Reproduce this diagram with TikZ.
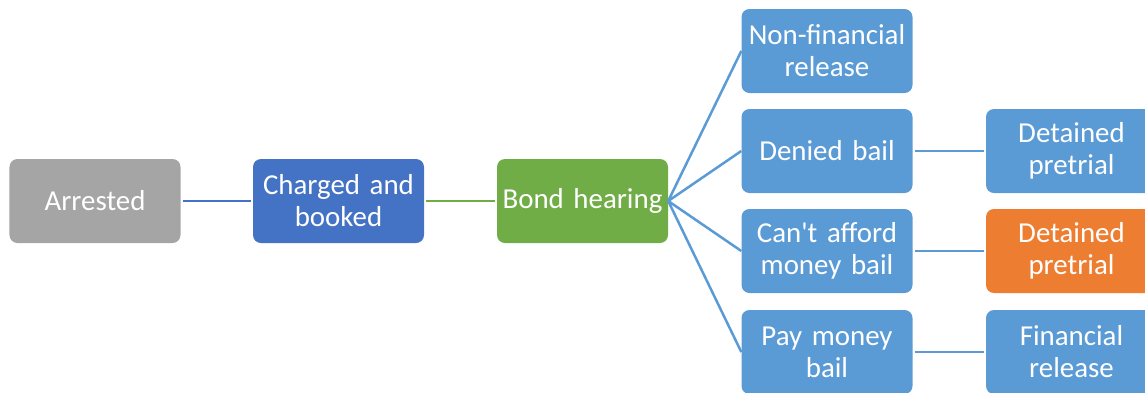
\documentclass[tikz,border=0pt]{standalone}
\usepackage{fontspec}
\setmainfont{Carlito}[Ligatures=TeXOff]
\usepackage{xcolor}
\usetikzlibrary{positioning}
\definecolor{grayfill}{HTML}{A5A5A5}
\definecolor{darkblue}{HTML}{4472C4}
\definecolor{greenfill}{HTML}{70AD47}
\definecolor{lightblue}{HTML}{5B9BD5}
\definecolor{orangefill}{HTML}{ED7D31}

\begin{document}
\begin{tikzpicture}[x=1bp,y=-1bp]
            \tikzset{box/.style = {rounded corners=8bp, minimum width=171bp, minimum height=84bp,
                                   text width=165bp, align=center, inner sep=0pt, text=white,
                                   font=\fontsize{29}{32}\selectfont},
                     link/.style = {line width=2.5bp, shorten <=2bp, shorten >=2bp}}
            \clip (0,0) rectangle (1145,392);
            % vertices
            \node[box, fill=grayfill] (arr) at  (95,201) {Arrested};
            \node[box, fill=darkblue] (chg) at  (338.5,201) {Charged and\\booked};
            \node[box, fill=greenfill] (bond) at  (582.5,201) {Bond hearing};
            \node[box, fill=lightblue] (nonfin) at  (827,51) {Non-financial\\release};
            \node[box, fill=lightblue] (denied) at  (827,151) {Denied bail};
            \node[box, fill=lightblue] (cant) at  (827,251) {Can't afford\\money bail};
            \node[box, fill=lightblue] (pay) at  (827,352) {Pay money\\bail};
            \node[box, fill=lightblue] (det1) at  (1071.5,151) {Detained\\pretrial};
            \node[box, fill=orangefill] (det2) at  (1071.5,251) {Detained\\pretrial};
            \node[box, fill=lightblue] (finrel) at  (1071.5,352) {Financial\\release};
            %edges
            \draw[link, darkblue] (arr) to (chg);
            \draw[link, greenfill] (chg) to (bond);
            \draw[line width=2.5bp, lightblue] (bond.east) to (nonfin.west);
            \draw[line width=2.5bp, lightblue] (bond.east) to (denied.west);
            \draw[line width=2.5bp, lightblue] (bond.east) to (cant.west);
            \draw[line width=2.5bp, lightblue] (bond.east) to (pay.west);
            \draw[link, lightblue] (denied) to (det1);
            \draw[link, lightblue] (cant) to (det2);
            \draw[link, lightblue] (pay) to (finrel);
        \end{tikzpicture}
\end{document}
